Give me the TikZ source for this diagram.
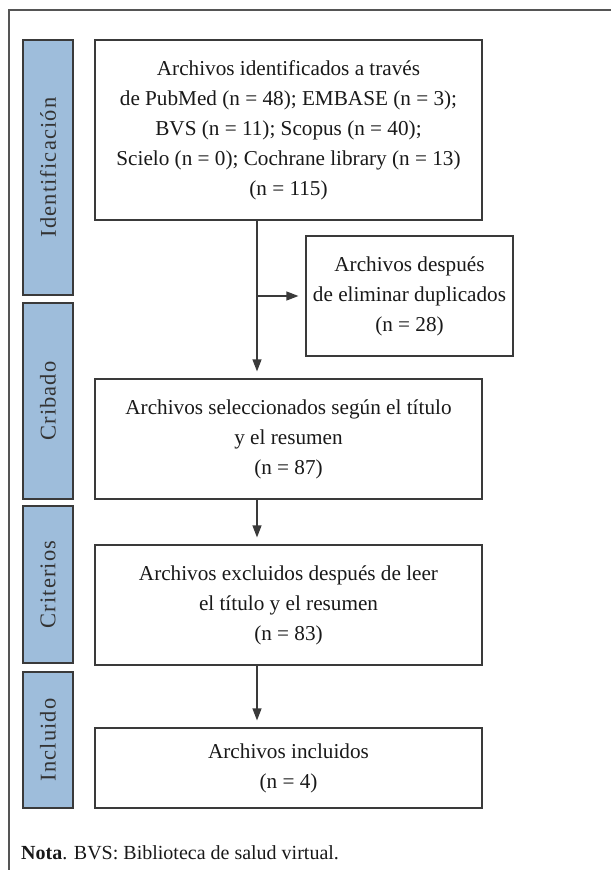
\documentclass[tikz,border=0pt]{standalone}
\usepackage{fontspec}
\setmainfont{Liberation Serif}
\usetikzlibrary{arrows.meta,calc}
\definecolor{barblue}{HTML}{9EBDDB}
\definecolor{edge}{HTML}{3A3A3A}
\definecolor{framegray}{HTML}{555555}
\tikzset{
  flowbox/.style={draw=edge, line width=1.2pt, fill=white, align=center,
    inner sep=0pt, font=\fontsize{21.2}{30}\selectfont, text=black!90},
  phasebar/.style={draw=edge, line width=1.2pt, fill=barblue, inner sep=0pt},
  phaselabel/.style={rotate=90, font=\fontsize{22.5}{24}\selectfont\addfontfeature{LetterSpace=5}, text=black!80},
  arr/.style={draw=edge, line width=1.2pt, -{Triangle[length=12pt,width=9pt]}, shorten >=7pt},
}
\begin{document}
\begin{tikzpicture}[x=1pt,y=-1pt]
\useasboundingbox (0,0) rectangle (611,870);
% frame (only top and left edges visible)
\draw[framegray, line width=1.4pt] (9,870) -- (9,10) -- (611,10);

% phase bars
\node[phasebar, minimum width=50pt, minimum height=255pt] (pid) at (48,167.5) {};
\node[phaselabel] (lid) at (pid.center) {Identificación};
\node[phasebar, minimum width=50pt, minimum height=196pt] (pcr) at (48,401) {};
\node[phaselabel] (lcr) at (pcr.center) {Cribado};
\node[phasebar, minimum width=50pt, minimum height=157pt] (pci) at (48,584.5) {};
\node[phaselabel] (lci) at (pci.center) {Criterios};
\node[phasebar, minimum width=50pt, minimum height=136pt] (pin) at (48,740) {};
\node[phaselabel] (lin) at (pin.center) {Incluido};

% boxes
\node[flowbox, minimum width=387pt, minimum height=180pt] (b1) at (288.5,130)
  {Archivos identificados a través\\de PubMed (n = 48); EMBASE (n = 3);\\BVS (n = 11); Scopus (n = 40);\\Scielo (n = 0); Cochrane library (n = 13)\\(n = 115)};
\node[flowbox, minimum width=207pt, minimum height=120pt] (b2) at (409.5,296)
  {Archivos después\\de eliminar duplicados\\(n = 28)};
\node[flowbox, minimum width=387pt, minimum height=120pt] (b3) at (288.5,439)
  {Archivos seleccionados según el título\\y el resumen\\(n = 87)};
\node[flowbox, minimum width=387pt, minimum height=120pt] (b4) at (288.5,605)
  {Archivos excluidos después de leer\\el título y el resumen\\(n = 83)};
\node[flowbox, minimum width=387pt, minimum height=80pt] (b5) at (288.5,768)
  {Archivos incluidos\\(n = 4)};

% connectors
\coordinate (spine) at (257,0);
\draw[arr] (b1.south -| spine) -- (b3.north -| spine);
\draw[arr] (b2.west -| spine) -- (b2.west);
\draw[arr] (b3.south -| spine) -- (b4.north -| spine);
\draw[arr] (b4.south -| spine) -- (b5.north -| spine);

% note
\node[anchor=base west, inner sep=0pt, font=\fontsize{20}{24}\selectfont, text=black!90] (nota) at (21,859)
  {\textbf{Nota}. BVS: Biblioteca de salud virtual.};
\end{tikzpicture}
\end{document}
